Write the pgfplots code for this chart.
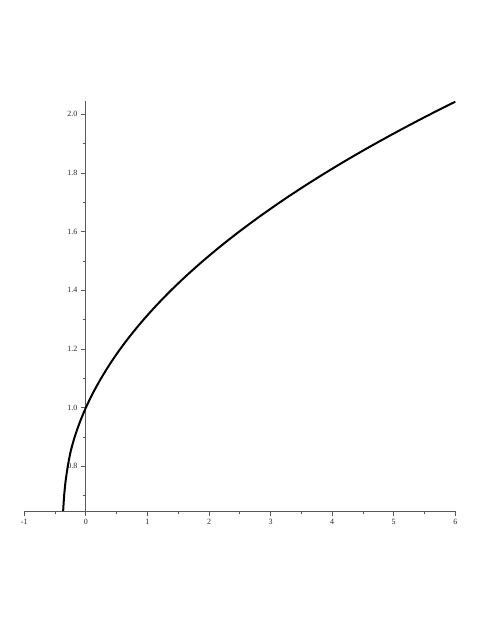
\documentclass[border=0pt]{standalone}
\usepackage{fontspec}
\setmainfont{Liberation Serif}
\usepackage{pgfplots}
\pgfplotsset{compat=1.18}
\begin{document}
\begin{tikzpicture}
  \begin{axis}[
    scale only axis,
    width=431bp, height=410bp,
    xmin=-1, xmax=6,
    ymin=0.648, ymax=2.045,
    axis x line=bottom,
    axis y line=middle,
    axis line style={-, draw=black!65, line width=0.8bp},
    tick style={draw=black!65, line width=0.8bp},
    tick align=outside,
    major tick length=5bp,
    minor tick length=3bp,
    xtick={-1,0,...,6},
    minor xtick={-0.5,0.5,...,5.5},
    ytick={0.8,1.0,...,2.0},
    minor ytick={0.7,0.9,...,1.9},
    yticklabel style={/pgf/number format/fixed, /pgf/number format/fixed zerofill, /pgf/number format/precision=1},
    /pgf/number format/assume math mode=true,
    tick label style={font=\fontsize{8}{9.5}\selectfont, text=black!85},
    clip=false,
  ]
    % curve
    \addplot[black, line width=2bp, smooth] coordinates {
      (-0.369,0.648) (-0.353,0.70) (-0.329,0.75) (-0.294,0.80) (-0.248,0.85)
      (-0.182,0.90) (-0.099,0.95) (0,1.0) (0.115,1.05) (0.247,1.10)
      (0.394,1.15) (0.558,1.20) (0.739,1.25) (0.937,1.30) (1.152,1.35)
      (1.384,1.40) (1.634,1.45) (1.902,1.50) (2.187,1.55) (2.491,1.60)
      (2.813,1.65) (3.153,1.70) (3.512,1.75) (3.890,1.80) (4.287,1.85)
      (4.704,1.90) (5.140,1.95) (5.595,2.00) (6.0,2.0425)
    };
    \coordinate (o) at (rel axis cs:0,0);
  \end{axis}
  \path ([shift={(-24.3bp,-124bp)}]o) rectangle ([shift={(466.7bp,511bp)}]o);
\end{tikzpicture}
\end{document}
